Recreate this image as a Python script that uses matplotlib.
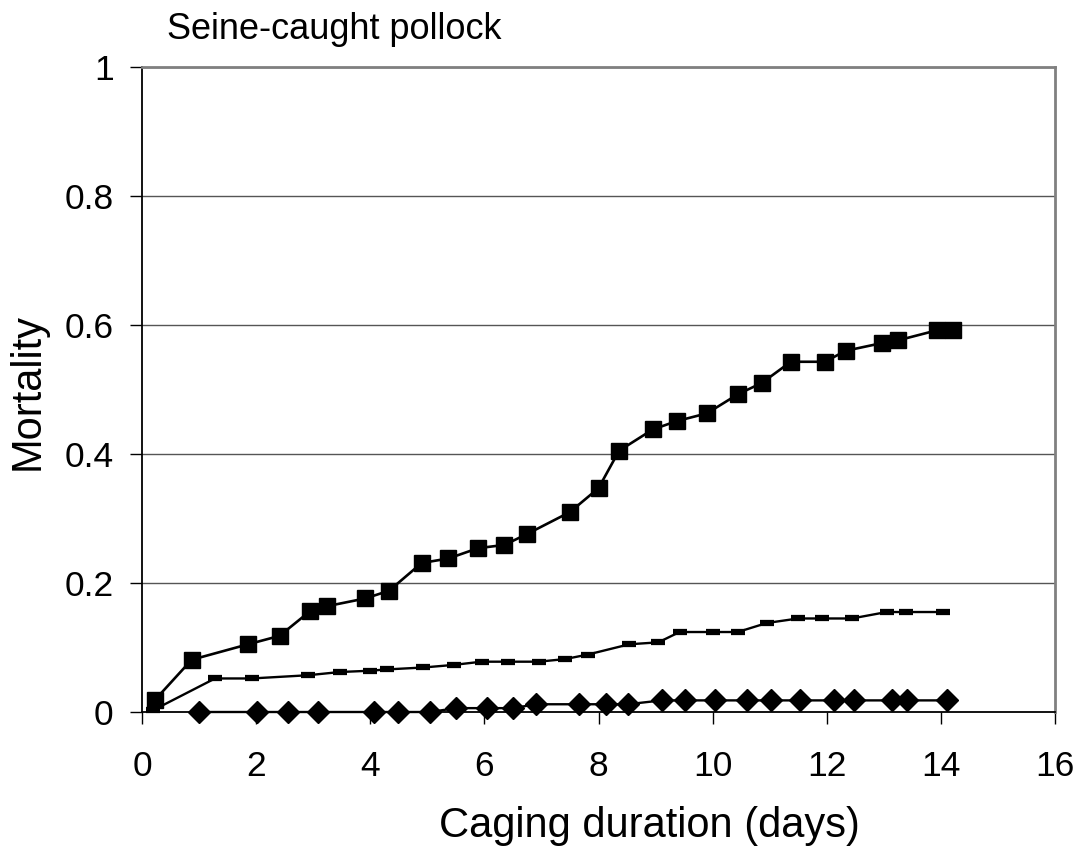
import matplotlib
matplotlib.use("Agg")
import matplotlib.pyplot as plt

plt.rcParams["font.family"] = ["Liberation Sans", "DejaVu Sans"]

# --- data ---
sq_x = [0.23, 0.87, 1.86, 2.41, 2.94, 3.24, 3.91, 4.33, 4.90, 5.37, 5.89, 6.35,
        6.75, 7.50, 8.00, 8.36, 8.95, 9.37, 9.90, 10.45, 10.86, 11.37, 11.97,
        12.33, 12.97, 13.24, 13.94, 14.22]
sq_y = [0.019, 0.081, 0.105, 0.118, 0.156, 0.164, 0.176, 0.188, 0.231, 0.238,
        0.254, 0.259, 0.276, 0.310, 0.347, 0.405, 0.438, 0.451, 0.463, 0.493,
        0.510, 0.543, 0.543, 0.560, 0.572, 0.576, 0.592, 0.592]

dash_x = [0.2, 1.28, 1.92, 2.91, 3.47, 4.00, 4.29, 4.93, 5.46, 5.95, 6.42, 6.95,
          7.41, 7.81, 8.54, 9.05, 9.42, 10.00, 10.44, 10.95, 11.50, 11.91,
          12.44, 13.05, 13.39, 14.04]
dash_y = [0.003, 0.052, 0.052, 0.057, 0.062, 0.064, 0.066, 0.069, 0.073, 0.078,
          0.078, 0.078, 0.082, 0.089, 0.105, 0.108, 0.124, 0.124, 0.124, 0.138,
          0.145, 0.145, 0.145, 0.155, 0.155, 0.155]

dia_x = [1.00, 2.01, 2.56, 3.09, 4.07, 4.49, 5.05, 5.50, 6.04, 6.50, 6.91, 7.66,
         8.14, 8.51, 9.11, 9.52, 10.04, 10.60, 11.02, 11.53, 12.13, 12.48,
         13.14, 13.40, 14.10]
dia_y = [0, 0, 0, 0, 0, 0, 0, 0.006, 0.006, 0.006, 0.012, 0.012, 0.012, 0.012,
         0.018, 0.018, 0.018, 0.018, 0.018, 0.018, 0.018, 0.018, 0.018, 0.018,
         0.018]

x_ticks = [0, 2, 4, 6, 8, 10, 12, 14, 16]
y_ticks = [0, 0.2, 0.4, 0.6, 0.8, 1]
y_ticklabels = ["0", "0.2", "0.4", "0.6", "0.8", "1"]

W, H = 1081, 852
fig = plt.figure(figsize=(W / 100, H / 100), dpi=100)
ax = fig.add_axes([142 / W, 1 - 712 / H, (1055 - 142) / W, (712 - 67) / H])

# gridlines
for yv in y_ticks[1:]:
    ax.axhline(yv, color="#555555", lw=1.0, zorder=1)

ax.plot(dia_x, dia_y, color="black", lw=1.7, marker="D", ms=11,
        mfc="black", mec="black", zorder=3, clip_on=False)
ax.plot(dash_x, dash_y, color="black", lw=1.7, marker="_", ms=10, mew=4.5,
        mec="black", zorder=3, clip_on=False)
ax.plot(sq_x, sq_y, color="black", lw=1.9, marker="s", ms=12,
        mfc="black", mec="black", zorder=4, clip_on=False)

ax.set_xlim(0, 16)
ax.set_ylim(0, 1)
ax.set_xticks(x_ticks)
ax.set_yticks(y_ticks)
ax.set_yticklabels(y_ticklabels)
ax.tick_params(direction="out", length=8.5, width=1, labelsize=25.5,
               color="black")
ax.tick_params(axis="x", pad=19)
ax.tick_params(axis="y", pad=12)

for side in ("left", "bottom"):
    ax.spines[side].set_color("black")
    ax.spines[side].set_linewidth(1.3)
for side in ("top", "right"):
    ax.spines[side].set_color("#808080")
    ax.spines[side].set_linewidth(2)

# axis titles placed as in the reference
fig.text(649 / W, 1 - 837 / H, "Caging duration (days)", fontsize=30,
         ha="center", va="baseline")
fig.text(28 / W, 1 - 392 / H, "Mortality", fontsize=30, rotation=90,
         ha="center", va="center")

fig.text(167 / W, 1 - 39 / H, "Seine-caught pollock", fontsize=26,
         ha="left", va="baseline")

fig.savefig("out.png", dpi=100)
